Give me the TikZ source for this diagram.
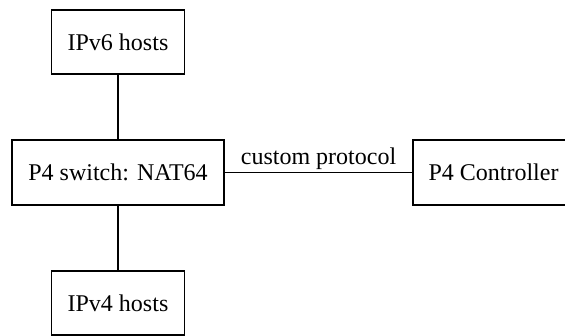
\documentclass[tikz,border=0pt]{standalone}
\usepackage{fontspec}
\setmainfont{Liberation Serif}
\begin{document}
\begin{tikzpicture}[x=1pt,y=-1pt,
  box/.style={draw, line width=1.2pt, rectangle, inner sep=0pt, align=center,
    font=\fontsize{24}{28}\selectfont},
  link/.style={line width=1.2pt}]
\clip (0,0) rectangle (565,336);
\useasboundingbox (0,0) rectangle (565,336);
\node[box, minimum width=133pt, minimum height=64pt] (v6) at (118,42) {IPv6 hosts};
\node[box, minimum width=212pt, minimum height=65pt] (sw) at (118,172.5) {P4 switch: NAT64};
\node[box, minimum width=133pt, minimum height=64pt] (v4) at (118,303) {IPv4 hosts};
\node[box, minimum width=161pt, minimum height=65pt] (ctl) at (493.5,172.5) {P4 Controller};
\draw[link] (v6) -- (sw);
\draw[link] (sw) -- (v4);
\draw[link] (sw) -- node[above, inner sep=2pt, font=\fontsize{24}{28}\selectfont] (lbl) {custom protocol} (ctl);
\end{tikzpicture}
\end{document}
